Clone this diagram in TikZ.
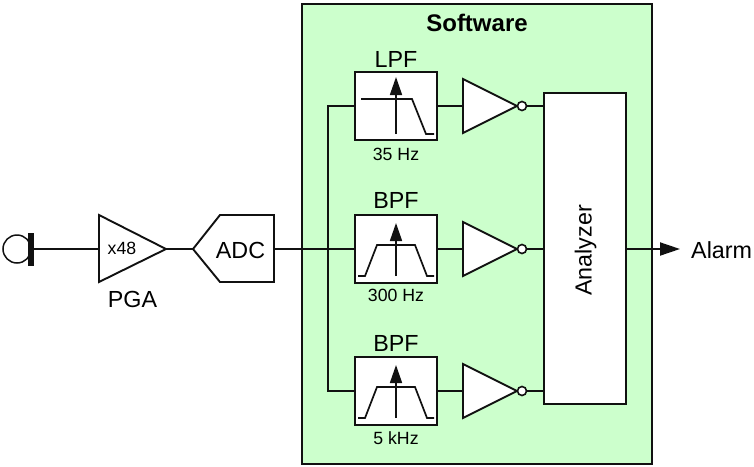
\documentclass[tikz,border=0pt]{standalone}
\usepackage{fontspec}
\setmainfont{Liberation Sans}
\usetikzlibrary{arrows.meta}
\definecolor{swfill}{HTML}{CCFFCC}
\definecolor{linec}{HTML}{111111}
\newcommand{\bigsz}{\fontsize{23.3}{23}\selectfont}
\newcommand{\boldsz}{\fontsize{24}{24}\selectfont}
\newcommand{\smlsz}{\fontsize{17.7}{18}\selectfont}
\tikzset{
  wire/.style={draw=linec,line width=1.9pt},
  blockbox/.style={draw=linec,fill=white,line width=1.9pt,inner sep=0pt,minimum width=82pt,minimum height=68pt},
  shapeline/.style={draw=linec,fill=white,line width=1.9pt,line join=miter},
  bubble/.style={circle,draw=linec,fill=white,line width=1.6pt,minimum size=9pt,inner sep=0pt},
  bigtext/.style={font=\bigsz,text=black,inner sep=0pt,anchor=base},
  smalltext/.style={font=\smlsz,text=black,inner sep=0pt,anchor=base},
  curve/.style={draw=linec,line width=1.7pt},
  peak/.style={draw=linec,line width=1.7pt,-{Triangle[length=18pt,width=12pt]}},
}
\begin{document}
\begin{tikzpicture}[x=1pt,y=-1pt]
\useasboundingbox (0,0) rectangle (754,466);
% software panel
\node[draw=linec,fill=swfill,line width=1.9pt,inner sep=0pt,minimum width=350pt,minimum height=460pt] (sw) at (477,234) {};
\node[bigtext,font=\boldsz\bfseries] (swlabel) at (477,31) {Software};
% microphone
\node[circle,draw=linec,line width=1.5pt,minimum size=28pt,inner sep=0pt] (micc) at (17,249) {};
\node[fill=linec,inner sep=0pt,minimum width=6pt,minimum height=33pt] (micb) at (31,249) {};
% PGA
\coordinate (pgaw) at (99,249);
\coordinate (pgae) at (166,249);
\draw[shapeline] (99,215) -- (pgae) -- (99,282) -- cycle;
\node[smalltext] (gain) at (122,254) {x48};
\node[bigtext] (pga) at (132.5,307) {PGA};
% ADC
\coordinate (adcw) at (193,249);
\coordinate (adce) at (274,249);
\draw[shapeline] (adcw) -- (220,215) -- (274,215) -- (274,282) -- (220,282) -- cycle;
\node[bigtext] (adc) at (240.5,258) {ADC};
% input wires
\draw[wire] (micb.east) -- (pgaw);
\draw[wire] (pgae) -- (adcw);
% filters
\node[blockbox] (f1) at (396,106) {};
\node[blockbox] (f2) at (396,249) {};
\node[blockbox] (f3) at (396,391) {};
\coordinate (bus1) at (328,106);
\coordinate (bus2) at (328,249);
\coordinate (bus3) at (328,391);
\draw[wire] (adce) -- (f2.west);
\draw[wire,line join=miter] (f1.west) -- (bus1) -- (bus3) -- (f3.west);
\node[bigtext] (l1) at (396,67) {LPF};
\node[bigtext] (l2) at (396,208) {BPF};
\node[bigtext] (l3) at (396,351) {BPF};
\node[smalltext] (s1) at (396,160) {35 Hz};
\node[smalltext] (s2) at (396,301) {300 Hz};
\node[smalltext] (s3) at (396,444) {5 kHz};
% filter responses
\draw[curve] (361,99) -- (412,99) -- (426,134) -- (434,134);
\draw[peak] (396,134) -- (396,77);
\draw[curve] (358,276) -- (365,276) -- (377,245) -- (415,245) -- (427,276) -- (434,276);
\draw[peak] (396,276) -- (396,223);
\draw[curve] (358,418) -- (365,418) -- (377,387) -- (415,387) -- (427,418) -- (434,418);
\draw[peak] (396,418) -- (396,365);
% analyzer
\node[draw=linec,fill=white,line width=1.9pt,inner sep=0pt,minimum width=82pt,minimum height=311pt] (an) at (585,248.5) {};
\node[bigtext,rotate=90] (anl) at (591.5,250.5) {Analyzer};
% inverters
\foreach \n/\y in {1/106,2/249,3/391}{
  \coordinate (i\n w) at (463,\y);
  \draw[shapeline] (463,\y-27) -- (517,\y) -- (463,\y+27) -- cycle;
  \node[bubble] (b\n) at (522,\y) {};
  \draw[wire] (f\n.east) -- (i\n w);
  \draw[wire] (b\n.east) -- (b\n.east -| an.west);
}
% output
\coordinate (out) at (680,249);
\draw[wire,-{Triangle[length=20pt,width=13pt]}] (an.east |- out) -- (out);
\node[bigtext,anchor=base west] (alarm) at (691,258) {Alarm};
\end{tikzpicture}
\end{document}
